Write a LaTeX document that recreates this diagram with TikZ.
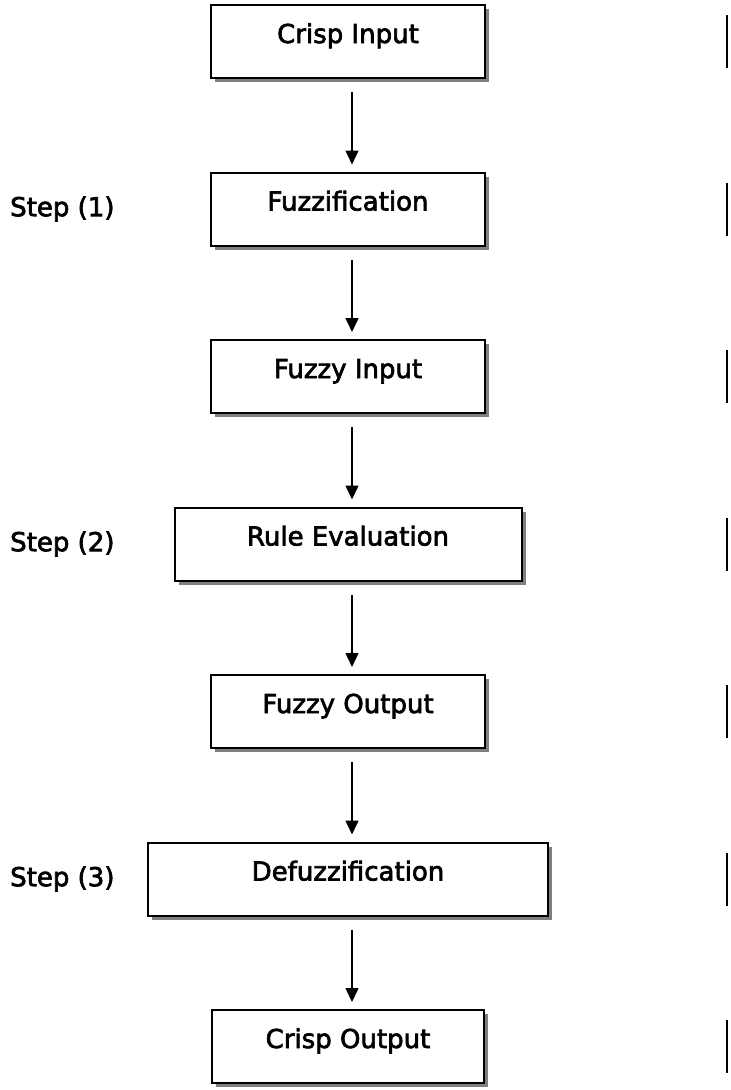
\documentclass[tikz,border=0pt]{standalone}
\usepackage{fontspec}
\setmainfont{DejaVu Sans}[RawFeature={embolden=2.6}]
\usetikzlibrary{positioning}
\usetikzlibrary{shadows}
\usetikzlibrary{arrows.meta}
\tikzset{
semithick,
>={Triangle[width=13pt,length=14pt]}, % filled heads on the flow arrows
every node/.style={font=\fontsize{26pt}{31pt}\selectfont},
my box/.style={draw,line width=2pt,fill=white,minimum width=274pt,
  inner xsep=0pt,inner ysep=0pt,outer sep=0pt,
  text height=38pt,text depth=35pt,
  drop shadow={shadow xshift=4pt,shadow yshift=-4pt,fill=black!50,opacity=1}},
step label/.style={anchor=west,inner sep=0pt},
flow/.style={->,line width=1.5pt,shorten <=14pt,shorten >=8pt},
side mark/.style={line width=2pt},
node distance=94.5pt
}
\begin{document}
\begin{tikzpicture}
\useasboundingbox (0,0) rectangle (731pt,-1090pt);
\coordinate (lx) at (10pt,0);
\coordinate (rx) at (727pt,0);

\node[my box,anchor=north]        (cin)   at (348pt,-5pt)  {Crisp Input};
\node[my box]                     (fuz)   [below=of cin]   {Fuzzification};
\node[my box]                     (fin)   [below=of fuz]   {Fuzzy Input};
\node[my box,minimum width=347pt] (rule)  [below=of fin]   {Rule Evaluation};
\node[my box]                     (fout)  [below=of rule]  {Fuzzy Output};
\node[my box,minimum width=400pt] (defuz) [below=of fout]  {Defuzzification};
\node[my box,minimum width=272pt] (cout)  [below=of defuz] {Crisp Output};

\node[step label] (s1) at (fuz.center -| lx)   {Step (1)};
\node[step label] (s2) at (rule.center -| lx)  {Step (2)};
\node[step label] (s3) at (defuz.center -| lx) {Step (3)};

\draw[flow] ([xshift=4pt]cin.south)   -- ([xshift=4pt]fuz.north);
\draw[flow] ([xshift=4pt]fuz.south)   -- ([xshift=4pt]fin.north);
\draw[flow] ([xshift=4pt]fin.south)   -- ([xshift=4pt]rule.north);
\draw[flow] ([xshift=4pt]rule.south)  -- ([xshift=4pt]fout.north);
\draw[flow] ([xshift=4pt]fout.south)  -- ([xshift=4pt]defuz.north);
\draw[flow] ([xshift=4pt]defuz.south) -- ([xshift=4pt]cout.north);

% short bars down the right margin, one per box
\foreach \n in {cin,fuz,fin,rule,fout,defuz,cout}
  \draw[side mark] (\n.north -| rx) ++(0,-10pt) -- ++(0,-53pt);
\end{tikzpicture}
\end{document}
